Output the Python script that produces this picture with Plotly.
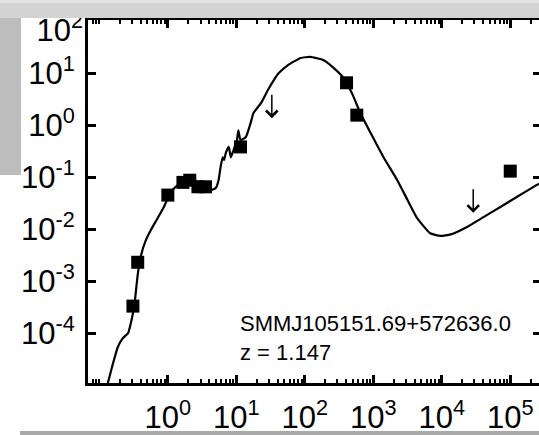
import numpy as np
import plotly.graph_objects as go

# ---------------- data ----------------
# photometric detections: observed wavelength (micron), flux (arbitrary units)
phot_wavelength = [0.309, 0.363, 1.0, 1.66, 2.09, 2.75, 3.55, 11.5, 407, 575, 1.0e5]
phot_flux = [3.3e-4, 2.3e-3, 0.045, 0.079, 0.087, 0.065, 0.065, 0.38, 6.5, 1.55, 0.13]

# upper limits (arrow tops)
limit_wavelength = [33, 28800]
limit_flux = [4.1, 0.062]

# model SED
model_wavelength = [0.133, 0.158, 0.186, 0.219, 0.263, 0.288, 0.309, 0.331, 0.363, 0.407,
                    0.479, 0.562, 0.708, 0.871, 1.10, 1.41, 1.82, 2.40, 3.02, 3.55,
                    4.27, 5.01, 5.50, 5.89, 6.31, 6.61, 7.08, 7.76, 8.32, 9.12,
                    10.2, 10.7, 11.5, 13.8, 16.2, 17.8, 22.9, 28.8, 35.5, 41.7,
                    56.2, 87.1, 120, 186, 263, 372, 501, 646, 912, 1410,
                    2240, 3160, 4370, 6760, 9550, 13500, 23400, 40700, 70800, 126000,
                    219000, 263000]
model_flux = [1.1e-5, 2.6e-5, 5.4e-5, 7.9e-5, 1.0e-4, 1.55e-4, 2.4e-4, 4.3e-4, 1.32e-3, 3.16e-3,
              6.2e-3, 9.5e-3, 0.0162, 0.0263, 0.0513, 0.0708, 0.0871, 0.0912, 0.0708, 0.0589,
              0.0562, 0.0617, 0.0871, 0.155, 0.240, 0.214, 0.302, 0.380, 0.240, 0.331,
              0.513, 0.794, 0.513, 0.589, 1.10, 1.70, 2.63, 4.68, 7.41, 10.0,
              14.1, 19.5, 20.4, 17.8, 12.6, 7.94, 3.80, 1.70, 0.708, 0.240,
              0.0871, 0.0363, 0.0162, 8.3e-3, 7.4e-3, 7.9e-3, 0.011, 0.017, 0.0263, 0.0417,
              0.0646, 0.0741]

x_tick_vals = [1, 10, 100, 1e3, 1e4, 1e5]
x_tick_text = ["10<sup>0</sup>", "10<sup>1</sup>", "10<sup>2</sup>",
               "10<sup>3</sup>", "10<sup>4</sup>", "10<sup>5</sup>"]
y_tick_vals = [1e-4, 1e-3, 1e-2, 1e-1, 1, 10]
y_tick_text = ["10<sup>-4</sup>", "10<sup>-3</sup>", "10<sup>-2</sup>",
               "10<sup>-1</sup>", "10<sup>0</sup>", "10<sup>1</sup>"]
y_top_tick_vals = [100]
y_top_tick_text = ["10<sup>2</sup>"]

source_name = "SMMJ105151.69+572636.0"
redshift_label = "z = 1.147"

# ---------------- figure ----------------
X_RANGE = [-1.166, 5.42]
Y_RANGE = [-4.96, 2.02]
FONT = "Liberation Sans, Arial, sans-serif"

fig = go.Figure()

fig.add_trace(go.Scatter(
    x=model_wavelength, y=model_flux, mode="lines",
    line=dict(color="black", width=2.2, shape="spline", smoothing=0.4),
    hoverinfo="skip", showlegend=False))

fig.add_trace(go.Scatter(
    x=phot_wavelength, y=phot_flux, mode="markers",
    marker=dict(symbol="square", size=13, color="black"),
    showlegend=False))

# empty traces to activate overlay axes
fig.add_trace(go.Scatter(x=[None], y=[None], yaxis="y2", showlegend=False))
fig.add_trace(go.Scatter(x=[None], y=[None], yaxis="y3", showlegend=False))

for wl, fl in zip(limit_wavelength, limit_flux):
    fig.add_annotation(
        x=np.log10(wl), y=np.log10(fl) - 0.48,
        ax=np.log10(wl), ay=np.log10(fl),
        xref="x", yref="y", axref="x", ayref="y",
        text="", showarrow=True, arrowhead=4, arrowsize=1.5,
        arrowwidth=1.5, arrowcolor="black")

fig.add_annotation(
    x=0.332, y=0.124, xref="paper", yref="paper",
    xanchor="left", yanchor="middle", align="left",
    text=source_name + "<br>" + redshift_label, showarrow=False,
    font=dict(family=FONT, size=22, color="black"))

axis_font = dict(family=FONT, size=31, color="black")

fig.update_layout(
    width=539, height=435,
    margin=dict(l=88, r=0, t=20, b=52),
    paper_bgcolor="white", plot_bgcolor="white",
    xaxis=dict(
        type="log", range=X_RANGE,
        tickvals=x_tick_vals, ticktext=x_tick_text,
        ticks="inside", ticklen=8, tickwidth=2.5, tickcolor="black",
        minor=dict(ticks="inside", ticklen=4, tickwidth=2, tickcolor="black",
                   dtick="D1", showgrid=False),
        showline=True, linewidth=3, linecolor="black", mirror="ticks",
        showgrid=False, zeroline=False, tickfont=axis_font,
        ticklabelstandoff=5),
    yaxis=dict(
        type="log", range=Y_RANGE,
        tickvals=y_tick_vals, ticktext=y_tick_text,
        ticks="inside", ticklen=8, tickwidth=2.5, tickcolor="black",
        showline=True, linewidth=3, linecolor="black",
        showgrid=False, zeroline=False, tickfont=axis_font,
        ticklabelstandoff=4),
    yaxis2=dict(
        type="log", range=Y_RANGE, overlaying="y", side="right", anchor="x",
        tickvals=y_tick_vals, ticks="inside", ticklen=6, tickwidth=3,
        tickcolor="black", showticklabels=False, showline=False,
        showgrid=False, zeroline=False),
    yaxis3=dict(
        type="log", range=Y_RANGE, overlaying="y", side="left", anchor="x",
        tickvals=y_top_tick_vals, ticktext=y_top_tick_text, ticks="",
        showline=False, showgrid=False, zeroline=False, tickfont=axis_font,
        ticklabelstandoff=4, ticklabelshift=9, ticklabeloverflow="allow"),
)

# slide background pieces (cover the top of the plot like the reference crop)
H = 363.0  # plot height in px
W = 451.0  # plot width in px
def py(p):
    return (383 - p) / H
def px(p):
    return (p - 88) / W

shapes = [
    dict(x0=px(-5), x1=px(545), y0=py(18), y1=py(-5), color="#d3d3d3"),
    dict(x0=px(-5), x1=px(545), y0=py(3), y1=py(-5), color="#e3e3e3"),
    dict(x0=px(-5), x1=px(21), y0=py(175), y1=py(18), color="#bdbdbd"),
    dict(x0=px(20), x1=px(545), y0=py(440), y1=py(431), color="#a9a9a9"),
]
for s in shapes:
    fig.add_shape(type="rect", xref="paper", yref="paper",
                  x0=s["x0"], x1=s["x1"], y0=s["y0"], y1=s["y1"],
                  fillcolor=s["color"], line=dict(width=0), layer="above")

fig.write_html("out.html", config={"displayModeBar": False},
               post_script="document.body.style.margin='0';document.body.style.overflow='hidden';")
